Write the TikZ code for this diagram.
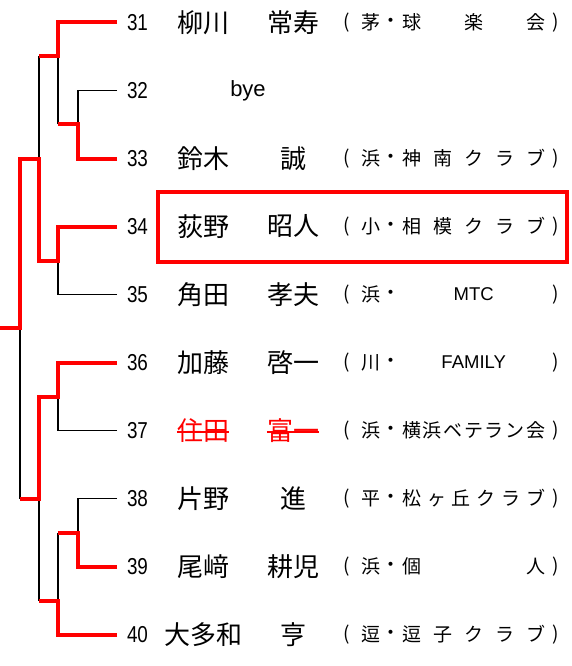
\documentclass[tikz,border=0pt]{standalone}
\usepackage{fontspec}
\newfontfamily\jpfont{Noto Sans CJK JP}
\newfontfamily\numfont[FakeStretch=0.82]{Liberation Sans}
\newfontfamily\latinfont{Liberation Sans}
\newcommand{\latclub}{\latinfont\fontsize{18.5}{19}\selectfont}

\begin{document}
\begin{tikzpicture}[x=1pt,y=-1pt,
    num/.style={anchor=west,inner xsep=10pt,inner ysep=0pt,outer sep=0pt,font=\numfont\fontsize{23}{23}\selectfont},
    pname/.style={inner sep=0pt,font=\jpfont\fontsize{26}{26}\selectfont},
    club/.style={inner sep=0pt,font=\jpfont\fontsize{19}{19}\selectfont},
    tie/.style={line width=1.5pt},
    win/.style={red,line width=4pt},
    hilite/.style={draw=red,line width=4pt}]
  \useasboundingbox (0,0) rectangle (571,666);

  % players
  \foreach \n/\sur/\giv/\pre/\clb/\col in {
      31/柳川/常寿/茅/{球\hfill 楽\hfill 会}/black,
      33/鈴木/誠/浜/{神\hfill 南\hfill ク\hfill ラ\hfill ブ}/black,
      34/荻野/昭人/小/{相\hfill 模\hfill ク\hfill ラ\hfill ブ}/black,
      35/角田/孝夫/浜/{\hfill\latclub MTC\hfill}/black,
      36/加藤/啓一/川/{\hfill\latclub FAMILY\hfill}/black,
      37/住田/富一/浜/{横\hfill 浜\hfill ベ\hfill テ\hfill ラ\hfill ン\hfill 会}/red,
      38/片野/進/平/{松\hfill ヶ\hfill 丘\hfill ク\hfill ラ\hfill ブ}/black,
      39/尾﨑/耕児/浜/{個\hfill 人}/black,
      40/大多和/亨/逗/{逗\hfill 子\hfill ク\hfill ラ\hfill ブ}/black}{
    \node[num] (n\n) at (117,{22.5+68*(\n-31)}) {\n};
    \node[pname,text=\col] (s\n) at (203,{22.5+68*(\n-31)}) {\sur};
    \node[pname,text=\col] (g\n) at (293,{22.5+68*(\n-31)}) {\giv};
    \node[club] (o\n) at (347,{22.5+68*(\n-31)}) {(};
    \node[club] (p\n) at (371,{22.5+68*(\n-31)}) {\pre};
    \node[club] (d\n) at (391,{22.5+68*(\n-31)}) {・};
    \node[club,anchor=west] (c\n) at (402,{22.5+68*(\n-31)}) {\makebox[143pt]{\clb}};
    \node[club] (e\n) at (556,{22.5+68*(\n-31)}) {)};
  }
  \node[num] (n32) at (117,90.5) {32};
  \node[font=\latinfont\fontsize{22}{22}\selectfont,inner sep=0pt] (b32) at (248,91) {bye};

  % withdrawn
  \draw[red,line width=2pt] ([yshift=-1.2pt]s37.west) -- ([yshift=-1.2pt]s37.east);
  \draw[red,line width=2pt] ([yshift=-1.2pt]g37.west) -- ([yshift=-1.2pt]g37.east);

  % bracket joints
  \coordinate (m3233) at (78,124.5);
  \coordinate (m3133) at (58,56.5);
  \coordinate (m3435) at (58,260.5);
  \coordinate (m3135) at (39,158.5);
  \coordinate (m3140) at (20,328);
  \coordinate (champ) at (0,328);
  \coordinate (m3637) at (58,396.5);
  \coordinate (m3839) at (78,532.5);
  \coordinate (m3840) at (58,600.5);
  \coordinate (m3640) at (39,498.5);

  \draw[tie] (m3133 -| m3135) -- (m3135);
  \draw[tie] (m3233 -| m3133) -- (m3133);
  \draw[tie] (n32.west) -| (m3233);
  \draw[tie] (n35.west) -| (m3435);
  \draw[tie] (m3640 -| m3140) -- (m3140);
  \draw[tie] (n37.west) -| (m3637);
  \draw[tie] (n38.west) -| (m3839);
  \draw[tie] (m3839 -| m3840) -- (m3840);
  \draw[tie] (m3840 -| m3640) -- (m3640);

  \draw[win] (n31.west) -| (m3133) -- (m3133 -| m3135);
  \draw[win] (n33.west) -| (m3233) -- (m3233 -| m3133);
  \draw[win] (n34.west) -| (m3435) -- (m3435 -| m3135) -- (m3135) -- (m3135 -| m3140) -- (m3140) -- (champ);
  \draw[win] (n36.west) -| (m3637) -- (m3637 -| m3640) -- (m3640) -- (m3640 -| m3140);
  \draw[win] (n39.west) -| (m3839) -- (m3839 -| m3840);
  \draw[win] (n40.west) -| (m3840) -- (m3840 -| m3640);

  \draw[hilite] (158,191.5) rectangle (567,261.5);
\end{tikzpicture}
\end{document}
